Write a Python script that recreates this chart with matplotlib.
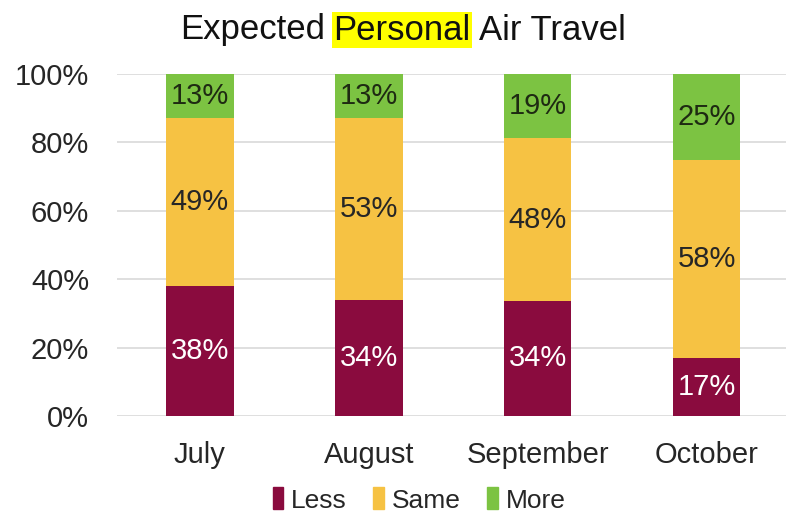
import numpy as np
import matplotlib
matplotlib.use('Agg')
import matplotlib.pyplot as plt
from matplotlib.patches import Patch

plt.rcParams['font.family'] = ['Liberation Sans', 'DejaVu Sans']

months = ['July', 'August', 'September', 'October']
less = np.array([38, 34, 34, 17])
same = np.array([49, 53, 48, 58])
more = np.array([13, 13, 19, 25])

C_LESS, C_SAME, C_MORE = '#8A0B3E', '#F6C243', '#7CC342'
TXT = '#262626'
FS = 21

fig = plt.figure(figsize=(7.86, 5.18), dpi=100)
ax = fig.add_axes([117/786, 1 - 416/518, 1 - 117/786, (416 - 74)/518])

# shares so each bar fills 100% (September sums to 101)
total = less + same + more
p_less, p_same, p_more = less / total, same / total, more / total
x = np.arange(len(months))
w = 0.4
ax.bar(x, p_less, w, color=C_LESS, zorder=3)
ax.bar(x, p_same, w, bottom=p_less, color=C_SAME, zorder=3)
ax.bar(x, p_more, w, bottom=p_less + p_same, color=C_MORE, zorder=3)

for i in range(len(months)):
    ax.text(x[i], p_less[i] / 2, f'{less[i]}%', ha='center', va='center',
            color='white', fontsize=FS, zorder=4)
    ax.text(x[i], p_less[i] + p_same[i] / 2, f'{same[i]}%', ha='center', va='center',
            color=TXT, fontsize=FS, zorder=4)
    ax.text(x[i], p_less[i] + p_same[i] + p_more[i] / 2, f'{more[i]}%', ha='center',
            va='center', color='#1e2a12', fontsize=FS, zorder=4)

ax.set_ylim(0, 1)
ax.set_xlim(-0.49, 3.47)
ax.set_yticks(np.linspace(0, 1, 6))
ax.set_yticklabels([f'{int(v)}%' for v in np.linspace(0, 100, 6)])
ax.set_xticks(x)
ax.set_xticklabels(months)
ax.tick_params(axis='both', length=0, labelsize=FS, labelcolor=TXT)
ax.tick_params(axis='y', pad=20)
ax.tick_params(axis='x', pad=18)
ax.yaxis.grid(True, color='#d9d9d9', lw=1.2, zorder=0)
for s in ax.spines.values():
    s.set_visible(False)

# title with highlighted word
y_t = 1 - 30/518
parts = ['Expected', 'Personal', 'Air Travel']
texts = [fig.text(0, y_t, p, fontsize=25, color='#111111', va='center') for p in parts]
texts[1].set_bbox(dict(facecolor='#FFFF00', edgecolor='none', pad=1))
r = fig.canvas.get_renderer()
ws = [t.get_window_extent(r).width for t in texts]
gap = 8
tot = sum(ws) + 2 * gap
cx = 403
xp = cx - tot / 2
for t, wd in zip(texts, ws):
    t.set_x(xp / 786)
    xp += wd + gap

handles = [Patch(color=C_LESS, label='Less'), Patch(color=C_SAME, label='Same'),
           Patch(color=C_MORE, label='More')]
fig.legend(handles=handles, loc='center', bbox_to_anchor=(419/786, 1 - 500/518), ncol=3,
           frameon=False, fontsize=19, handlelength=0.4, handleheight=0.9,
           handletextpad=0.3, columnspacing=1.0, labelcolor=TXT)

fig.savefig('out.png', dpi=100)
